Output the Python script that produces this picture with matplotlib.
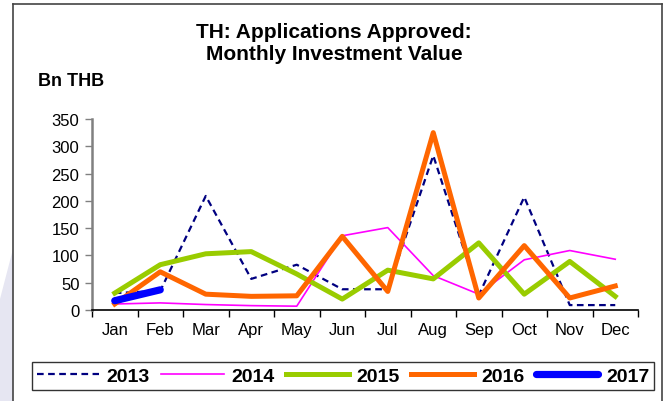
import numpy as np
import matplotlib
matplotlib.use("Agg")
import matplotlib.pyplot as plt
from matplotlib.patches import Polygon

plt.rcParams['font.family'] = ['Liberation Sans', 'DejaVu Sans']

# Data (Bn THB)
months = ['Jan', 'Feb', 'Mar', 'Apr', 'May', 'Jun', 'Jul', 'Aug', 'Sep', 'Oct', 'Nov', 'Dec']
y2013 = [31, 35, 209, 57, 83, 38, 38, 283, 27, 207, 9, 9]
y2014 = [11, 13, 10, 8, 7, 136, 151, 63, 29, 92, 109, 93]
y2015 = [31, 83, 103, 107, 66, 20, 73, 57, 123, 29, 89, 25]
y2016 = [11, 70, 29, 25, 26, 135, 34, 325, 22, 118, 22, 44]
y2017 = [17, 37]

W, H = 667, 402
fig = plt.figure(figsize=(W / 100, H / 100), dpi=100)

# light background strip on left + outer frame
fig.patches.append(Polygon([(0, 0), (13 / W, 0), (13 / W, 1 - 250 / H), (0, 1 - 300 / H)],
                           closed=True, transform=fig.transFigure,
                           facecolor='#e6e6f2', edgecolor='none', zorder=0))
for xs, ys in [([13, 13], [402, 5]), ([13, 662], [5, 5]), ([662, 662], [5, 402])]:
    fig.add_artist(plt.Line2D([v / W for v in xs], [1 - v / H for v in ys],
                              color='#444444', lw=1.2, transform=fig.transFigure))

ax = fig.add_axes([92 / W, 1 - 311 / H, (638 - 92) / W, (311 - 120) / H])
x = np.arange(len(months))

ax.plot(x, y2013, color='#000080', lw=1.6, ls=(0, (3, 2)), label='2013')
ax.plot(x, y2014, color='#ff00ff', lw=1.2, label='2014')
ax.plot(x, y2015, color='#99cc00', lw=3.6, label='2015')
ax.plot(x, y2016, color='#ff6600', lw=3.6, label='2016')
ax.plot(x[:len(y2017)], y2017, color='#0000ff', lw=5.2, solid_capstyle='round', label='2017')

ax.set_xlim(-0.5, 11.5)
ax.set_ylim(0, 350)
ax.set_yticks(np.arange(0, 351, 50))
ax.set_xticks(x)
ax.set_xticklabels(months)
ax.set_xticks(np.arange(-0.5, 12, 1), minor=True)
ax.tick_params(axis='x', which='major', length=0, pad=9, labelsize=12)
ax.tick_params(axis='x', which='minor', length=5, width=1, direction='out')
ax.tick_params(axis='y', length=5, width=1, labelsize=12, pad=4, color='#808080')

for s in ['top', 'right']:
    ax.spines[s].set_visible(False)
ax.spines['left'].set_color('#808080')
ax.spines['left'].set_linewidth(1.8)
ax.spines['bottom'].set_color('black')
ax.spines['bottom'].set_linewidth(1.2)

fig.text(334 / W, 1 - 32 / H, 'TH: Applications Approved:', ha='center', va='center',
         fontsize=15, fontweight='bold')
fig.text(334 / W, 1 - 55 / H, 'Monthly Investment Value', ha='center', va='center',
         fontsize=15, fontweight='bold')
fig.text(38 / W, 1 - 82 / H, 'Bn THB', ha='left', va='center', fontsize=13, fontweight='bold')

leg = fig.legend(loc='center', bbox_to_anchor=(343 / W, 1 - 377 / H), ncol=5,
                 frameon=True, fancybox=False, edgecolor='black', handlelength=3.2,
                 handletextpad=0.4, columnspacing=0.6, borderpad=0.25, borderaxespad=0,
                 prop={'weight': 'bold', 'size': 14})
leg.get_frame().set_linewidth(1.0)

fig.savefig('out.png', dpi=100)
